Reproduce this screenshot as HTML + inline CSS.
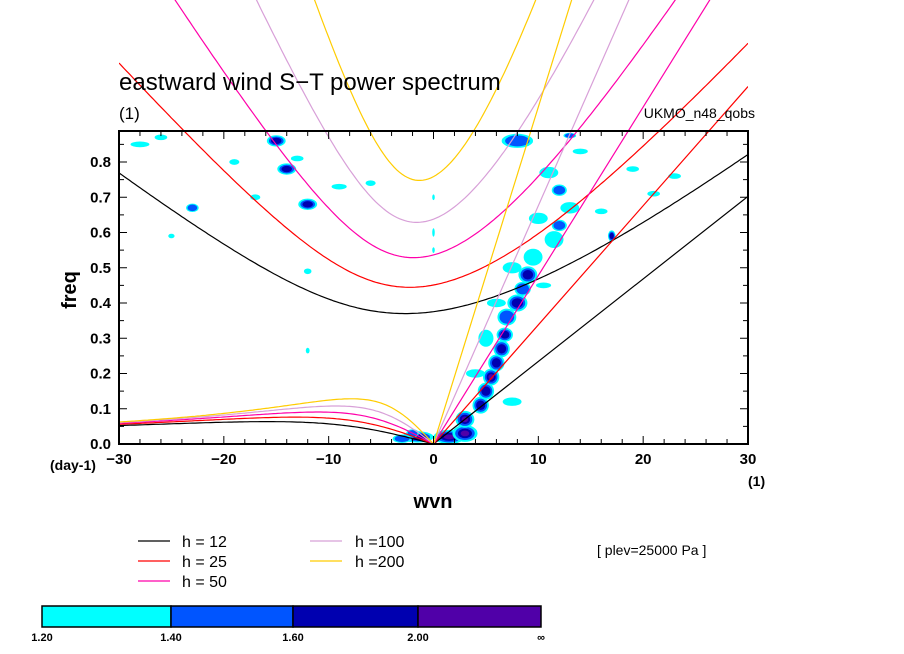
<!DOCTYPE html>
<html><head><meta charset="utf-8"><style>
html,body{margin:0;padding:0;background:#fff;}
svg{display:block;font-family:"Liberation Sans",sans-serif;}
</style></head><body>
<svg id="chart" width="904" height="654" viewBox="0 0 904 654">
<defs>
<clipPath id="clipX"><rect x="119" y="0" width="629" height="444"/></clipPath>
<clipPath id="clipPlot"><rect x="119" y="131" width="629" height="313"/></clipPath>
</defs>
<g id="blobs" clip-path="url(#clipPlot)"></g>
<g id="curves" clip-path="url(#clipX)"></g>
<rect x="119" y="131" width="629" height="313" fill="none" stroke="#000" stroke-width="2"/>
<g id="ticks"></g>
<text x="119" y="90" font-size="24">eastward wind S−T power spectrum</text>
<text x="119" y="119" font-size="17">(1)</text>
<text x="755" y="118" font-size="14" text-anchor="end">UKMO_n48_qobs</text>
<text x="0" y="0" font-size="20" font-weight="bold" transform="translate(76,290) rotate(-90)" text-anchor="middle">freq</text>
<text x="433" y="508" font-size="20" font-weight="bold" text-anchor="middle">wvn</text>
<text x="50" y="470" font-size="14" font-weight="bold">(day-1)</text>
<text x="748" y="486" font-size="14" font-weight="bold">(1)</text>
<g id="legend"></g>
<text x="597" y="555" font-size="14">[ plev=25000 Pa ]</text>
<g id="cbar"></g>
</svg>
<script>
const hValues=[12,25,50,100,200];
const hColors=["#000000","#ff0000","#ff00aa","#d8a0d8","#ffcc00"];
const xTicks=[-30,-20,-10,0,10,20,30];
const yTicks=[0,0.1,0.2,0.3,0.4,0.5,0.6,0.7,0.8];
const blobW=[1.5,3,-1.5,-3,3,4.5,5,5.5,6,6.5,6.8,7,8,8.5,9,9.5,11.5,12,13,12,11,8,13,17,19,21,5,7.5,10,-15,-14,-12,-23,-17,-13,-28,-9,-19,-12,-12,0,0,0,-25,-6,-2,14,16,23,-26,4,6,10.5,7.5];
const blobF=[0.02,0.03,0.02,0.015,0.07,0.11,0.15,0.19,0.23,0.27,0.31,0.36,0.4,0.44,0.48,0.53,0.58,0.62,0.67,0.72,0.77,0.86,0.875,0.59,0.78,0.71,0.3,0.5,0.64,0.86,0.78,0.68,0.67,0.7,0.81,0.85,0.73,0.8,0.49,0.265,0.6,0.7,0.55,0.59,0.74,0.03,0.83,0.66,0.76,0.87,0.2,0.4,0.45,0.12];
const blobDW=[2.5,2,2.5,1.5,1.5,1.3,1.3,1.3,1.3,1.3,1.3,1.5,1.6,1.3,1.5,1.5,1.5,1.2,1.5,1.2,1.5,2.5,1,0.6,1,1,1.2,1.5,1.5,1.5,1.5,1.5,1,0.8,1,1.5,1.2,0.8,0.6,0.3,0.2,0.2,0.2,0.5,0.8,1,1.2,1,1,1,1.5,1.5,1.2,1.5];
const blobDF=[0.025,0.03,0.02,0.015,0.03,0.03,0.03,0.03,0.03,0.03,0.025,0.03,0.03,0.025,0.03,0.03,0.03,0.02,0.02,0.02,0.02,0.025,0.01,0.02,0.01,0.01,0.03,0.02,0.02,0.02,0.02,0.02,0.015,0.01,0.01,0.01,0.01,0.01,0.01,0.01,0.015,0.01,0.01,0.008,0.01,0.015,0.01,0.01,0.01,0.01,0.015,0.015,0.01,0.015];
const blobLevel=[4,4,3,2,4,3,3,4,3,3,3,2,3,2,3,1,1,2,1,2,1,2,2,3,1,1,1,1,1,3,3,3,2,1,1,1,1,1,1,1,1,1,1,1,1,2,1,1,1,1,1,1,1,1];
const cbLabels=["1.20","1.40","1.60","2.00","∞"];
const cbColors=["#00ffff","#0055ff","#0000b0","#5000a8"];

const NS="http://www.w3.org/2000/svg";
const X0=119,X1=748,Y0=444,PERF=352.5;
function xs(w){return X0+(w+30)/60*(X1-X0);}
function ys(f){return Y0-f*PERF;}
function mk(tag,attrs,parent){const e=document.createElementNS(NS,tag);for(const k in attrs)e.setAttribute(k,attrs[k]);parent.appendChild(e);return e;}

const gB=document.getElementById('blobs');
for(let i=0;i<blobW.length;i++){
  for(let l=1;l<=blobLevel[i];l++){
    const s=1-(l-1)*0.22;
    const e=mk('ellipse',{cx:xs(blobW[i]),cy:ys(blobF[i]),rx:blobDW[i]*629/60*s*0.6,ry:blobDF[i]*PERF*s*0.8,fill:cbColors[l-1]},gB);
    
    
  }
}

const beta=2.29e-11,a=6.371e6,g=9.81,conv=86400/(2*Math.PI);
function roots(s,c){
  const k=s/a;const p=-(c*c*k*k+3*beta*c);const q=-beta*k*c*c;
  const m=2*Math.sqrt(-p/3);
  let arg=3*q/(2*p)*Math.sqrt(-3/p);arg=Math.max(-1,Math.min(1,arg));
  const th=Math.acos(arg)/3;
  return [0,1,2].map(j=>m*Math.cos(th-2*Math.PI*j/3)).sort((u,v)=>u-v);
}
const gC=document.getElementById('curves');
for(let i=0;i<hValues.length;i++){
  const c=Math.sqrt(g*hValues[i]);
  let ig="",ro="";
  for(let s=-30;s<=30.001;s+=0.25){
    const r=roots(s,c);
    ig+=(ig?"L":"M")+xs(s).toFixed(1)+","+ys(r[2]*conv).toFixed(1);
    if(s<=0){ro+=(ro?"L":"M")+xs(s).toFixed(1)+","+ys(Math.max(0,r[1]*conv)).toFixed(1);}
  }
  const kel=c*(30/a)*conv;
  const p1=mk('path',{d:ig,fill:"none",stroke:hColors[i],"stroke-width":1.2},gC);
  
  
  const p2=mk('path',{d:ro,fill:"none",stroke:hColors[i],"stroke-width":1.2},gC);
  
  
  const p3=mk('line',{x1:xs(0),y1:ys(0),x2:xs(30),y2:ys(kel),stroke:hColors[i],"stroke-width":1.2},gC);
  
  
}

const gT=document.getElementById('ticks');
for(let w=-30;w<=30;w+=2){
  const L=(w%10===0)?8:5;
  mk('line',{x1:xs(w),y1:Y0,x2:xs(w),y2:Y0-L,stroke:"#000"},gT);
  mk('line',{x1:xs(w),y1:131,x2:xs(w),y2:131+L,stroke:"#000"},gT);
}
for(let f=0;f<=0.88;f+=0.05){
  const major=Math.abs(f*10-Math.round(f*10))<1e-6;const L=major?8:5;
  mk('line',{x1:X0,y1:ys(f),x2:X0+L,y2:ys(f),stroke:"#000"},gT);
  mk('line',{x1:X1,y1:ys(f),x2:X1-L,y2:ys(f),stroke:"#000"},gT);
}
xTicks.forEach(w=>{
  const t=mk('text',{x:xs(w),y:464,"font-size":15,"font-weight":"bold","text-anchor":"middle"},gT);
  t.textContent=(w<0?"−":"")+Math.abs(w);
  
  
});
yTicks.forEach(f=>{
  const t=mk('text',{x:111,y:ys(f)+5,"font-size":15,"font-weight":"bold","text-anchor":"end"},gT);
  t.textContent=f.toFixed(1);
  
  
});

const gL=document.getElementById('legend');
const legPos=[[138,182,541],[138,182,561],[138,182,581],[310,355,541],[310,355,561]];
const legTxt=["h = 12","h = 25","h = 50","h =100","h =200"];
hValues.forEach((h,i)=>{
  const [lx,tx,ly]=legPos[i];
  const ln=mk('line',{x1:lx,y1:ly,x2:lx+32,y2:ly,stroke:hColors[i],"stroke-width":1.2},gL);
  
  
  const t=mk('text',{x:tx,y:ly+6,"font-size":16},gL);
  t.textContent=legTxt[i];
  
  
});

const gCb=document.getElementById('cbar');
const cbX=[42,171,293,418,541];
for(let i=0;i<4;i++){
  const r=mk('rect',{x:cbX[i],y:606,width:cbX[i+1]-cbX[i],height:21,fill:cbColors[i],stroke:"#000","stroke-width":1.5},gCb);
  
  
}
cbLabels.forEach((s,i)=>{
  const t=mk('text',{x:cbX[i],y:641,"font-size":11,"font-weight":"bold","text-anchor":"middle"},gCb);
  t.textContent=s;
  
  
});
</script>
</body></html>
